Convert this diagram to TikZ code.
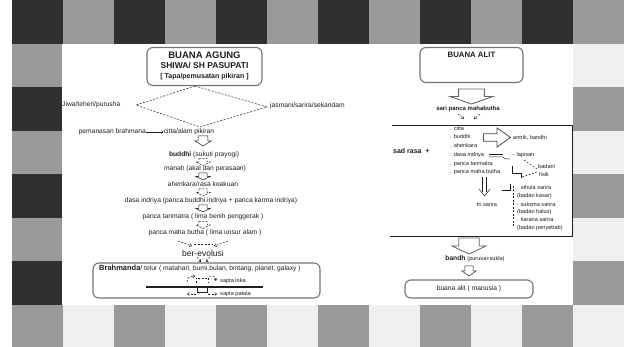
\documentclass[tikz,border=0pt]{standalone}
\usepackage{fontspec}
\setmainfont{Liberation Sans}
\usetikzlibrary{arrows.meta}
\definecolor{cdark}{HTML}{303030}
\definecolor{cmid}{HTML}{9A9A9A}
\definecolor{clight}{HTML}{EFEFEF}
\definecolor{ink}{HTML}{1E1E1E}
\begin{document}
\begin{tikzpicture}[x=1pt,y=-1pt,
 txt/.style={font=\fontsize{6.7}{7.5}\selectfont, inner sep=0pt, text=ink},
 sml/.style={font=\fontsize{5.6}{6.5}\selectfont, inner sep=0pt, text=ink},
 head/.style={font=\bfseries\fontsize{9.5}{10}\selectfont, inner sep=0pt, text=ink},
 rbox/.style={draw=black!55, line width=1.1pt, rounded corners=6pt, inner sep=0pt},
 ln/.style={draw=ink, line width=.5pt},
 dsh/.style={draw=ink, line width=.5pt, dash pattern=on 2pt off 1.5pt},
 hdn/.pic={\draw[pic actions] (-0.3,-0.5) -- (0.3,-0.5) -- (0.3,0) -- (0.5,0) -- (0,0.5) -- (-0.5,0) -- (-0.3,0) -- cycle;},
 hrt/.pic={\draw[pic actions] (-0.5,-0.2) -- (0,-0.2) -- (0,-0.5) -- (0.5,0) -- (0,0.5) -- (0,0.2) -- (-0.5,0.2) -- cycle;}
]
\useasboundingbox (0,0) rectangle (624,347);
\fill[white] (0,0) rectangle (624,347);
% checkered frame
\foreach \i in {0,...,11}{
 \foreach \j in {0,...,7}{
  \pgfmathtruncatemacro\cpar{mod(\i+\j,2)}
  \pgfmathtruncatemacro\cedge{(\i==0)||(\j==0)}
  \ifnum\cpar=1 \def\cc{cmid}\else\ifnum\cedge=1 \def\cc{cdark}\else\def\cc{clight}\fi\fi
  \fill[\cc] ({12+51*\i},{43.57*\j}) rectangle ++(51,43.57);
 }}
\fill[white] (62,44) rectangle (573,305);

% ---------- BUANA AGUNG ----------
\node[rbox, minimum width=115pt, minimum height=38pt] (ba) at (204.5,66.5) {};
\node[head] (baT) at (204.5,55) {BUANA AGUNG};
\node[head, font=\bfseries\fontsize{8.5}{9}\selectfont] (baS) at (204.5,66) {SHIWA/ SH PASUPATI};
\node[txt, font=\bfseries\fontsize{7}{8}\selectfont] (baP) at (204.5,77) {[ Tapa/pemusatan pikiran ]};

\coordinate (dt) at (195,86);
\coordinate (dl) at (136,105);
\coordinate (dr) at (267,107);
\coordinate (db) at (200,127);
\draw[dsh] (dt) -- (dl) -- (db) -- (dr) -- cycle;
\node[txt, anchor=west] (jw) at (62,105) {Jiwa/teheri/purusha};
\node[txt, anchor=west] (js) at (270,106) {jasmani/sarira/sekandam};

\node[txt] (ct) at (189,132) {citta/alam pikiran};
\node[txt, anchor=east] (pb) at (146,132) {pemanasan brahmana};
\draw[ln, -{Straight Barb[length=2pt,width=3pt]}] (pb.east) -- (ct.west);

\pic[ln, xscale=16, yscale=10] at (203,141) {hdn};
\node[txt] (bd) at (204,155) {\bfseries buddhi \mdseries(sukuti prayogi)};
\pic[dsh, xscale=14, yscale=7] at (203,162) {hdn};
\node[txt] (mn) at (205,169) {manah (akal dan perasaan)};
\pic[ln, xscale=14, yscale=7] at (203,176.5) {hdn};
\node[txt] (ah) at (203,184) {ahenkara/rasa keakuan};
\pic[dsh, xscale=14, yscale=7] at (203,192.5) {hdn};
\node[txt] (di) at (211,201) {dasa indriya (panca buddhi indriya + panca karma indriya)};
\pic[ln, xscale=14, yscale=7] at (203,208.5) {hdn};
\node[txt] (pt) at (203,217) {panca tanmatra ( lima benih penggerak )};
\pic[dsh, xscale=14, yscale=7] at (203,225) {hdn};
\node[txt] (pm) at (205,233) {panca maha butha ( lima unsur alam )};

\draw[dsh, -{Straight Barb[length=2pt,width=3pt]}] (178,241) -- (192,246);
\draw[dsh, -{Straight Barb[length=2pt,width=3pt]}] (228,241) -- (214,246);
\draw[dsh] (194,244) -- (212,244);
\node[txt, font=\fontsize{8.5}{9}\selectfont] (be) at (203,253) {ber-evolusi};
\draw[dsh, -{Straight Barb[length=2pt,width=3pt]}] (197,257) -- (201,262);
\draw[dsh, -{Straight Barb[length=2pt,width=3pt]}] (210,257) -- (206,262);

\node[rbox, minimum width=227pt, minimum height=35pt] (bb) at (206.5,280.5) {};
\node[txt, anchor=west] (bt) at (99,268) {{\bfseries\fontsize{7.5}{8}\selectfont Brahmanda}/ telur ( matahari, bumi,bulan, bintang, planet, galaxy )};
\draw[dsh] (196,283) -- (196,278) -- (208,278) -- (208,283);
\draw[dsh, -{Straight Barb[length=2pt,width=3pt]}] (187,282) .. controls (188,277) .. (195,276);
\draw[dsh, -{Straight Barb[length=2pt,width=3pt]}] (209,276) .. controls (215,276) .. (216,281);
\node[sml, anchor=west] (sl) at (220,281) {sapta loka};
\draw[ink, line width=1.6pt] (146,287) -- (263,287);
\draw[ln] (197,288) -- (197,292) -- (207,292) -- (207,288);
\draw[dsh, -{Straight Barb[length=2pt,width=3pt]}] (196,294) -- (187,294);
\draw[dsh, -{Straight Barb[length=2pt,width=3pt]}] (208,294) -- (217,294);
\node[sml, anchor=west] (spp) at (220,294) {sapta patala};

% ---------- BUANA ALIT ----------
\node[rbox, minimum width=103pt, minimum height=35pt] (bal) at (471.5,65) {};
\node[head, font=\bfseries\fontsize{7.8}{8}\selectfont] (balT) at (471.5,55) {BUANA ALIT};
\pic[draw=black!60, line width=.9pt, xscale=43, yscale=15] at (471.5,96.5) {hdn};
\node[txt, font=\bfseries\fontsize{6}{7}\selectfont] (sp) at (468,109) {sari panca mahabutha};
\draw[dsh, -{Straight Barb[length=2pt,width=3pt]}] (458,114) -- (464,119);
\draw[dsh, -{Straight Barb[length=2pt,width=3pt]}] (480,114) -- (474,119);

\draw[ln, line width=.6pt] (392,125) -- (572,125) -- (572,236) -- (390,236);
\node[txt, font=\bfseries\fontsize{7}{8}\selectfont, anchor=west] (sr) at (393,151) {sad rasa \ +};
\node[sml, anchor=west] (l1) at (450,129) {. citta};
\node[sml, anchor=west] (l2) at (450,137) {. buddhi};
\node[sml, anchor=west] (l3) at (450,146) {. ahenkara};
\node[sml, anchor=west] (l4) at (450,155) {. dasa indriya};
\node[sml, anchor=west] (l5) at (450,164) {. panca tanmatra};
\node[sml, anchor=west] (l6) at (450,172) {. panca maha butha};

\pic[draw=black!70, line width=.8pt, xscale=27, yscale=19] at (497,137.5) {hrt};
\node[sml, anchor=west] (ab) at (513,138) {antrik, bandhi};

\draw[ln] (489,154.5) -- (503,154.5);
\draw[ln] (489,157) -- (503,157) -- (505,159) -- (510,159);
\node[sml, anchor=west] (lp) at (513,155) {- lapisan};
\node[sml, anchor=west] (bf1) at (538,167) {badan/};
\node[sml, anchor=west] (bf2) at (539,175) {fisik};
\draw[dsh] (524,160) -- (537,169);
\draw[ink, line width=1pt] (512,166) -- (512,174) -- (521,174) -- (521,178);
\draw[dsh] (522,177) -- (537,172);

\draw[ln] (482.5,177) -- (482.5,192);
\draw[ln] (486.5,177) -- (486.5,192);
\draw[ln] (479,189) -- (484.5,196) -- (490,189);
\node[sml] (ts) at (487,205) {tri sarira};

\draw[ln] (502,190) -- (510,190) -- (510,184);
\draw[dsh] (513,186) -- (513,228);
\node[sml, anchor=west] (s1) at (517,188) {. sthula sarira};
\node[sml, anchor=west] (s2) at (517,196) {(badan kasar)};
\node[sml, anchor=west] (s3) at (517,204) {- suksma sarira};
\node[sml, anchor=west] (s4) at (517,212) {(badan halus)};
\node[sml, anchor=west] (s5) at (517,220) {. karana sarira};
\node[sml, anchor=west] (s6) at (517,228) {(badan penyebab)};

\pic[draw=black!60, line width=.8pt, xscale=34, yscale=16] at (469,246) {hdn};
\node[txt] (bn) at (475,259) {{\bfseries bandh} {\fontsize{5.6}{6}\selectfont(purusa+sukla)}};
\pic[ln, xscale=14, yscale=10] at (469,271) {hdn};
\node[rbox, minimum width=128pt, minimum height=18pt] (bam) at (469,289) {};
\node[txt] (bamT) at (469,289) {buana alit ( manusia )};
\end{tikzpicture}
\end{document}
